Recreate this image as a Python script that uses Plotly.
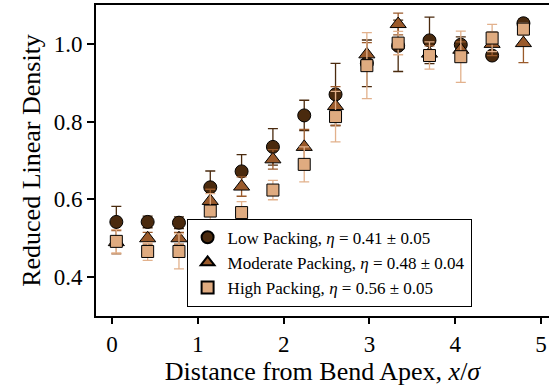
import plotly.graph_objects as go

x_pos = [0.05, 0.415, 0.78, 1.145, 1.51, 1.875, 2.24, 2.605, 2.97, 3.335, 3.70, 4.065, 4.43, 4.795]

low = [0.542, 0.542, 0.540, 0.631, 0.672, 0.735, 0.816, 0.870, 0.950, 0.995, 1.009, 0.998, 0.970, 1.053]
low_err = [0.040, 0.015, 0.015, 0.042, 0.043, 0.047, 0.039, 0.080, 0.060, 0.066, 0.060, 0.020, 0.010, 0.012]

mod = [0.490, 0.500, 0.500, 0.596, 0.633, 0.703, 0.735, 0.840, 0.973, 1.051, 0.975, 0.985, 1.000, 1.002]
mod_err = [0.030, 0.015, 0.015, 0.030, 0.025, 0.025, 0.045, 0.050, 0.030, 0.028, 0.020, 0.020, 0.030, 0.050]

high = [0.492, 0.466, 0.466, 0.570, 0.566, 0.624, 0.690, 0.813, 0.944, 1.002, 0.970, 0.967, 1.015, 1.038]
high_err = [0.030, 0.023, 0.045, 0.045, 0.028, 0.025, 0.045, 0.065, 0.085, 0.030, 0.035, 0.066, 0.035, 0.015]

names = [
    "Low Packing, <i>η</i> = 0.41 ± 0.05",
    "Moderate Packing, <i>η</i> = 0.48 ± 0.04",
    "High Packing, <i>η</i> = 0.56 ± 0.05",
]

FONT = "Liberation Serif"

series = [
    (low, low_err, "circle", "#4a2a0e", "#4a2a0e", 13),
    (mod, mod_err, "triangle-up", "#9a5a2b", "#9a5a2b", 14),
    (high, high_err, "square", "#dfab80", "#e2b18c", 12),
]

fig = go.Figure()
for (vals, errs, sym, fill, ecol, size), name in zip(series, names):
    fig.add_trace(go.Scatter(
        x=x_pos, y=vals, mode="markers", name=name,
        marker=dict(symbol=sym, size=size, color=fill,
                    line=dict(color="black", width=1)),
        error_y=dict(type="data", array=errs, visible=True,
                     color=ecol, thickness=1.3, width=5),
    ))

fig.update_layout(
    width=549, height=392,
    margin=dict(l=96, r=0, t=5, b=76),
    paper_bgcolor="white", plot_bgcolor="white",
    font=dict(family=FONT, size=23, color="black"),
    showlegend=True,
    legend=dict(
        x=0.2, y=0.03, xanchor="left", yanchor="bottom",
        bgcolor="white", bordercolor="black", borderwidth=1,
        font=dict(family=FONT, size=17),
        itemsizing="constant",
        tracegroupgap=0,
    ),
    xaxis=dict(
        range=[-0.187, 5.093],
        tickvals=[0, 1, 2, 3, 4, 5],
        ticktext=["0", "1", "2", "3", "4", "5"],
        showline=True, linecolor="black", linewidth=2, mirror=True,
        ticks="outside", ticklen=6, tickwidth=1.5, tickcolor="black",
        showgrid=False, zeroline=False,
        title=dict(text="Distance from Bend Apex, <i>x</i>/<i>σ</i>",
                   font=dict(family=FONT, size=26), standoff=4),
    ),
    yaxis=dict(
        range=[0.3, 1.1],
        tickvals=[0.4, 0.6, 0.8, 1.0],
        ticktext=["0.4", "0.6", "0.8", "1.0"],
        showline=True, linecolor="black", linewidth=2,
        ticks="outside", ticklen=7, tickwidth=1.5, tickcolor="black",
        showgrid=False, zeroline=False,
        title=dict(text="Reduced Linear Density",
                   font=dict(family=FONT, size=26), standoff=6),
    ),
)

fig.write_html("out.html")
